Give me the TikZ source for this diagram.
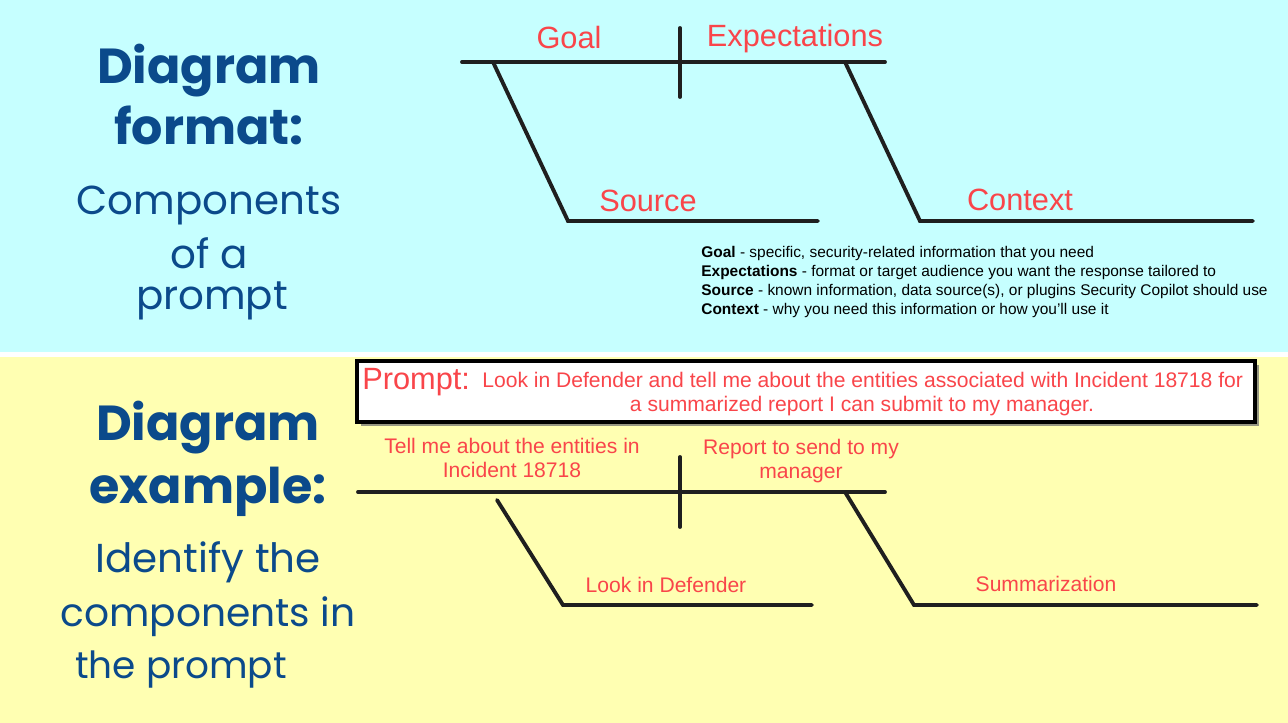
\documentclass[tikz,border=0pt]{standalone}
\usepackage{fontspec}
\setmainfont{Liberation Sans}
\newfontfamily\titlefont{Poppins}
\usetikzlibrary{positioning, shadows}
\definecolor{cyanbg}{HTML}{C6FFFF}
\definecolor{yellowbg}{HTML}{FFFFB2}
\definecolor{titleblue}{HTML}{0B4A8B}
\definecolor{labelred}{HTML}{F9454A}

\begin{document}
\begin{tikzpicture}[x=0.02cm, y=-0.02cm,
  bone/.style={line width=2.2pt, black!88, line cap=round, line join=miter},
  headline/.style={titleblue, anchor=base, inner sep=0pt, font=\titlefont\bfseries\fontsize{28}{30}\selectfont},
  subline/.style={titleblue, anchor=base, inner sep=0pt, font=\titlefont\fontsize{23}{25}\selectfont},
  biglabel/.style={labelred, anchor=base, inner sep=0pt, font=\fontsize{17.5}{20}\selectfont},
  smalllabel/.style={labelred, align=center, font=\fontsize{12}{13.6}\selectfont}]
  % backgrounds
  \fill[white] (0,0) rectangle (1288,723);
  \fill[cyanbg] (0,0) rectangle (1288,352);
  \fill[yellowbg] (0,357) rectangle (1288,723);
  % left titles
  \node[headline] (fmtA) at (209,84) {Diagram};
  \node[headline] (fmtB) at (209,145) {format:};
  \node[subline] (fmtC) at (209,214) {Components};
  \node[subline] (fmtD) at (209,268) {of a};
  \node[subline] (fmtE) at (212,309) {prompt};
  \node[headline] (exA) at (208,440) {Diagram};
  \node[headline] (exB) at (208,503) {example:};
  \node[subline] (exC) at (208,572) {Identify the};
  \node[subline, font=\titlefont\fontsize{22.3}{25}\selectfont] (exD) at (208,626) {components in};
  \node[subline, font=\titlefont\fontsize{21.3}{25}\selectfont] (exE) at (181,678) {the prompt};
  % format diagram
  \coordinate (fHead) at (462,62);
  \coordinate (fTail) at (885,62);
  \coordinate (fTickT) at (680,28);
  \coordinate (fTickB) at (680,97);
  \coordinate (fSrcA) at (493,62);
  \coordinate (fSrcB) at (568,221);
  \coordinate (fSrcC) at (818,221);
  \coordinate (fCtxA) at (845,62);
  \coordinate (fCtxB) at (920,221);
  \coordinate (fCtxC) at (1253,221);
  \draw[bone] (fHead) -- (fTail);
  \draw[bone] (fTickT) -- (fTickB);
  \draw[bone] (fSrcA) -- (fSrcB) -- (fSrcC);
  \draw[bone] (fCtxA) -- (fCtxB) -- (fCtxC);
  \node[biglabel] (goal) at (569,49) {Goal};
  \node[biglabel] (expect) at (795,47) {Expectations};
  \node[biglabel] (source) at (648,211) {Source};
  \node[biglabel] (context) at (1020,210) {Context};
  % legend
  \node[anchor=north west, align=left, inner sep=0pt,
    font=\fontsize{8.8}{10.8}\selectfont] (legend) at (701,246)
    {\textbf{Goal} - specific, security-related information that you need\\
     \textbf{Expectations} - format or target audience you want the response tailored to\\
     \textbf{Source} - known information, data source(s), or plugins Security Copilot should use\\
     \textbf{Context} - why you need this information or how you'll use it};
  % prompt box
  \node[draw=black, line width=1.9pt, fill=white, minimum width=898*0.02cm,
    minimum height=61*0.02cm, inner sep=0pt,
    drop shadow={shadow xshift=0.07cm, shadow yshift=-0.07cm, fill=black!55, opacity=0.75}]
    (promptbox) at (806,391.5) {};
  \node[labelred, anchor=base west, inner sep=0pt, font=\fontsize{17.5}{20}\selectfont]
    (promptlbl) at (362,389) {Prompt:};
  \node[labelred, anchor=base west, inner sep=0pt, font=\fontsize{12}{13}\selectfont]
    (promptA) at (482,387) {Look in Defender and tell me about the entities associated with Incident 18718 for};
  \node[labelred, anchor=base, inner sep=0pt, font=\fontsize{12}{13}\selectfont]
    (promptB) at (862,411) {a summarized report I can submit to my manager.};
  % example diagram
  \coordinate (eHead) at (358,492);
  \coordinate (eTail) at (885,492);
  \coordinate (eTickT) at (680,457);
  \coordinate (eTickB) at (680,527);
  \coordinate (eSrcA) at (497,500);
  \coordinate (eSrcB) at (563,605);
  \coordinate (eSrcC) at (812,605);
  \coordinate (eCtxA) at (845,492);
  \coordinate (eCtxB) at (914,605);
  \coordinate (eCtxC) at (1257,605);
  \draw[bone] (eHead) -- (eTail);
  \draw[bone] (eTickT) -- (eTickB);
  \draw[bone] (eSrcA) -- (eSrcB) -- (eSrcC);
  \draw[bone] (eCtxA) -- (eCtxB) -- (eCtxC);
  \node[smalllabel] (exGoal) at (512,458) {Tell me about the entities in\\Incident 18718};
  \node[smalllabel] (exExpect) at (801,461) {Report to send to my\\manager};
  \node[smalllabel] (exSource) at (666,585) {Look in Defender};
  \node[smalllabel] (exContext) at (1046,584) {Summarization};
\end{tikzpicture}
\end{document}
